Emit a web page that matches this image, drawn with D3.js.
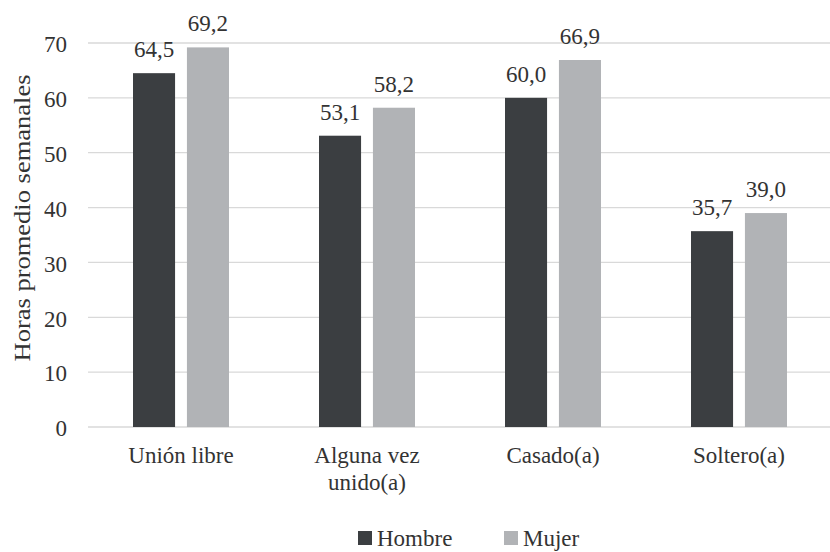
<!DOCTYPE html>
<html>
<head>
<meta charset="utf-8">
<script src="https://cdn.jsdelivr.net/npm/d3@7"></script>
<style>
  body { margin: 0; background: #fff; }
</style>
</head>
<body>
<div id="chart"></div>
<script>
const categories = [["Unión libre"], ["Alguna vez", "unido(a)"], ["Casado(a)"], ["Soltero(a)"]];
const seriesNames = ["Hombre", "Mujer"];
const hombre = [64.5, 53.1, 60.0, 35.7];
const mujer = [69.2, 58.2, 66.9, 39.0];
const yTicks = [0, 10, 20, 30, 40, 50, 60, 70];
const colors = ["#3b3e41", "#b1b3b6"];

const width = 830;
const height = 552;
const plotLeft = 88, plotRight = 832, plotTop = 43, plotBottom = 427;
const serif = "'Liberation Serif', 'Times New Roman', Times, serif";
const fs = "23px";
const textColor = "#333";

const svg = d3.select("#chart").append("svg")
  .attr("width", width)
  .attr("height", height)
  .attr("font-family", serif);

const x = d3.scaleBand()
  .domain(d3.range(categories.length))
  .range([plotLeft, plotRight]);

const xInner = d3.scaleBand()
  .domain(seriesNames)
  .range([x.bandwidth() / 2 - 48, x.bandwidth() / 2 + 48])
  .paddingInner(0.22);

const y = d3.scaleLinear().domain([0, 70]).range([plotBottom, plotTop]);

// gridlines
svg.append("g")
  .selectAll("line")
  .data(yTicks)
  .enter()
  .append("line")
  .attr("x1", plotLeft)
  .attr("x2", width)
  .attr("y1", (d) => y(d))
  .attr("y2", (d) => y(d))
  .attr("stroke", "#d9d9d9")
  .attr("stroke-width", 1.3);

const yAxis = d3.axisLeft(y).tickValues(yTicks).tickSize(0).tickPadding(21);
svg.append("g")
  .attr("transform", `translate(${plotLeft}, 0)`)
  .call(yAxis)
  .attr("font-family", serif)
  .attr("font-size", fs)
  .call((g) => g.select(".domain").remove())
  .selectAll("text")
  .attr("dy", "0.38em")
  .attr("fill", textColor);

svg.append("text")
  .attr("transform", `translate(30, 218) rotate(-90)`)
  .attr("text-anchor", "middle")
  .attr("font-size", "24px")
  .attr("textLength", 287)
  .attr("lengthAdjust", "spacingAndGlyphs")
  .attr("fill", textColor)
  .text("Horas promedio semanales");

const data = [hombre, mujer];
seriesNames.forEach(function (name, s) {
  const g = svg.append("g");
  g.selectAll("rect")
    .data(data[s])
    .enter()
    .append("rect")
    .attr("x", (d, i) => x(i) + xInner(name))
    .attr("y", (d) => y(d))
    .attr("width", xInner.bandwidth())
    .attr("height", (d) => plotBottom - y(d))
    .attr("fill", colors[s]);
  g.selectAll("text")
    .data(data[s])
    .enter()
    .append("text")
    .attr("x", (d, i) => x(i) + xInner(name) + xInner.bandwidth() / 2)
    .attr("y", (d) => y(d) - 16)
    .attr("text-anchor", "middle")
    .attr("font-size", fs)
    .attr("fill", textColor)
    .text((d) => d.toFixed(1).replace(".", ","));
});

// category labels
const cat = svg.append("g");
categories.forEach(function (lines, i) {
  const t = cat.append("text")
    .attr("x", x(i) + x.bandwidth() / 2)
    .attr("y", 463)
    .attr("text-anchor", "middle")
    .attr("font-size", fs)
    .attr("fill", textColor);
  lines.forEach(function (l, j) {
    t.append("tspan")
      .attr("x", x(i) + x.bandwidth() / 2)
      .attr("dy", j === 0 ? 0 : 27)
      .text(l);
  });
});

// legend
const legendX = [358, 504];
seriesNames.forEach(function (name, s) {
  const lg = svg.append("g").attr("transform", `translate(${legendX[s]}, 0)`);
  lg.append("rect")
    .attr("x", 0)
    .attr("y", 531)
    .attr("width", 14)
    .attr("height", 14)
    .attr("fill", colors[s]);
  lg.append("text")
    .attr("x", 19)
    .attr("y", 546)
    .attr("font-size", fs)
    .attr("fill", textColor)
    .text(name);
});
</script>
</body>
</html>
